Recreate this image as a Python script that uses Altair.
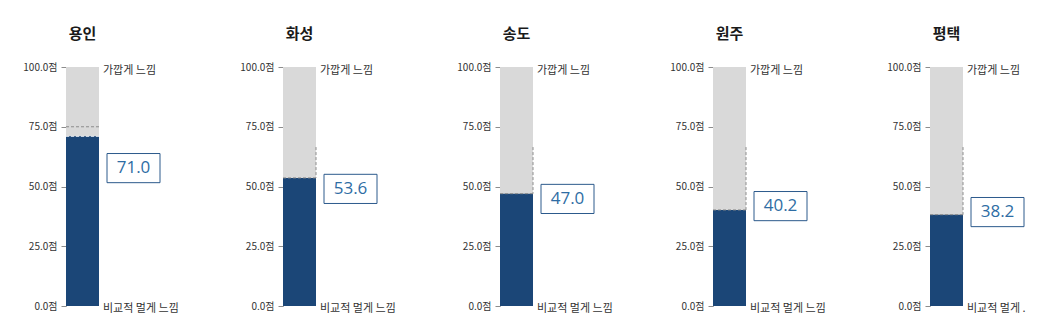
import altair as alt
import pandas as pd

regions = ["용인", "화성", "송도", "원주", "평택"]
scores = [71.0, 53.6, 47.0, 40.2, 38.2]
label_at = [57.7, 49.0, 44.8, 41.8, 39.3]   # where the value box sits, in score units
guide_level = [75.0, 66.5, 66.5, 66.5, 66.5]
tick_values = [0, 25, 50, 75, 100]
top_label = "가깝게 느낌"
bottom_label = "비교적 멀게 느낌"

NAVY = "#1b4677"
GRAY = "#d9d9d9"
BOX = "#2c5a8c"
VAL = "#2e6da4"
FONT = "Noto Sans CJK KR"

widths = [150, 150, 146, 150, 105]
BAR_W = 33
PLOT_H = 239


def panel(i):
    d = pd.DataFrame({
        "region": [regions[i]],
        "score": [scores[i]],
        "full": [100.0],
        "zero": [0.0],
        "anchor": [label_at[i]],
        "guide": [guide_level[i]],
    })
    base = alt.Chart(d)
    yscale = alt.Scale(domain=[0, 100], nice=False)
    yaxis = alt.Axis(
        values=tick_values,
        labelExpr="format(datum.value, '.1f') + '점'",
        title=None,
        grid=False,
        domainColor="#8c8c8c",
        tickColor="#8c8c8c",
        tickSize=5,
        labelPadding=4,
        labelFont=FONT,
        labelFontSize=10,
        labelColor="#333333",
        minExtent=48,
        maxExtent=48,
    )
    bg = base.mark_rect(color=GRAY).encode(
        x=alt.value(0), x2=alt.value(BAR_W),
        y=alt.Y("full:Q", scale=yscale, axis=yaxis),
        y2="zero:Q",
    )
    bar = base.mark_rect(color=NAVY).encode(
        x=alt.value(0), x2=alt.value(BAR_W),
        y=alt.Y("score:Q", scale=yscale),
        y2="zero:Q",
    )
    layers = [bg, bar]
    if i == 0:
        h = base.mark_rule(color="#8c8c8c", strokeDash=[3, 2], strokeWidth=1).encode(
            x=alt.value(0), x2=alt.value(BAR_W), y="guide:Q")
        top = base.mark_rule(color="#e8eef5", strokeDash=[3, 2], strokeWidth=1).encode(
            x=alt.value(0), x2=alt.value(BAR_W), y="score:Q")
        layers += [h, top]
    else:
        v = base.mark_rule(color="#8c8c8c", strokeDash=[3, 2], strokeWidth=1).encode(
            x=alt.value(BAR_W), y="guide:Q", y2="score:Q")
        top = base.mark_rule(color="#8c8c8c", strokeDash=[3, 2], strokeWidth=1).encode(
            x=alt.value(0), x2=alt.value(BAR_W), y="score:Q")
        layers += [v, top]
    t_top = base.mark_text(align="left", baseline="middle", dy=4, font=FONT,
                           fontSize=11, color="#333333").encode(
        x=alt.value(BAR_W + 4), y="full:Q", text=alt.value(top_label))
    bot_kwargs = dict(align="left", baseline="middle", dy=3, font=FONT,
                      fontSize=11, color="#333333")
    if i == len(regions) - 1:
        bot_kwargs.update(limit=62, ellipsis=" .")
    t_bot = base.mark_text(**bot_kwargs).encode(
        x=alt.value(BAR_W + 4), y="zero:Q", text=alt.value(bottom_label))
    box = base.transform_calculate(
        b_lo="datum.anchor - 6.1", b_hi="datum.anchor + 6.1"
    ).mark_rect(fill="white", stroke=BOX, strokeWidth=1).encode(
        x=alt.value(41), x2=alt.value(94),
        y="b_lo:Q", y2="b_hi:Q",
    )
    val = base.mark_text(align="center", baseline="middle", font="Open Sans",
                         fontSize=17, color=VAL).encode(
        x=alt.value(67.5), y="anchor:Q",
        text=alt.Text("score:Q", format=".1f"),
    )
    layers += [t_top, t_bot, box, val]
    return alt.layer(*layers).properties(
        width=widths[i], height=PLOT_H,
        title=alt.TitleParams(
            regions[i], anchor="start", frame="group", align="center",
            dx=BAR_W / 2, offset=20, font=FONT, fontSize=15, fontWeight="bold",
            color="#1a1a1a",
        ),
    )


chart = alt.hconcat(*[panel(i) for i in range(len(regions))], spacing=19).properties(
    padding={"left": 18, "top": 27, "right": 0, "bottom": 5}
).configure(background="white").configure_view(strokeWidth=0)

chart.save("out.html", embed_options={"renderer": "svg", "actions": False})
